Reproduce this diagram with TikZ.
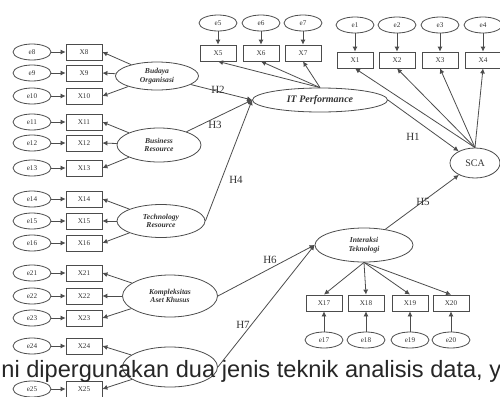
\documentclass[tikz,border=0pt]{standalone}
\usepackage{fontspec}
\setmainfont{Liberation Serif}
\newfontfamily\bodyfont{Liberation Sans}
\usepackage{tikz}
\usetikzlibrary{shapes.geometric,arrows.meta}

\begin{document}
\begin{tikzpicture}[x=0.5pt,y=0.5pt,yscale=-1,xscale=1,
    err/.style={draw=black!70, ellipse, minimum width=19pt, minimum height=8pt, inner sep=0pt, text=black!80, font=\fontsize{3.6}{4}\selectfont},
    ind/.style={draw=black!70, rectangle, minimum width=18pt, minimum height=8pt, inner sep=0pt, text=black!80, font=\fontsize{3.6}{4}\selectfont},
    lat/.style={draw=black!70, ellipse, inner sep=0pt, align=center, text=black!80, font=\bfseries\itshape\fontsize{3.8}{4.2}\selectfont},
    arr/.style={draw=black!70, line width=0.4pt, -{Latex[length=2.5pt,width=2.5pt]}},
    hyp/.style={inner sep=0pt, text=black!80, font=\fontsize{5.5}{6}\selectfont}]
    \useasboundingbox (0,0) rectangle (500,397);

    % left indicators
    \node[err] (e8) at (32,52) {e8}; \node[ind] (x8) at (84,52) {X8}; \draw[arr] (e8) -- (x8);
    \node[err] (e9) at (32,73) {e9}; \node[ind] (x9) at (84,73) {X9}; \draw[arr] (e9) -- (x9);
    \node[err] (e10) at (32,96) {e10}; \node[ind] (x10) at (84,96) {X10}; \draw[arr] (e10) -- (x10);
    \node[err] (e11) at (32,122) {e11}; \node[ind] (x11) at (84,122) {X11}; \draw[arr] (e11) -- (x11);
    \node[err] (e12) at (32,143) {e12}; \node[ind] (x12) at (84,143) {X12}; \draw[arr] (e12) -- (x12);
    \node[err] (e13) at (32,168) {e13}; \node[ind] (x13) at (84,168) {X13}; \draw[arr] (e13) -- (x13);
    \node[err] (e14) at (32,199) {e14}; \node[ind] (x14) at (84,199) {X14}; \draw[arr] (e14) -- (x14);
    \node[err] (e15) at (32,221) {e15}; \node[ind] (x15) at (84,221) {X15}; \draw[arr] (e15) -- (x15);
    \node[err] (e16) at (32,243) {e16}; \node[ind] (x16) at (84,243) {X16}; \draw[arr] (e16) -- (x16);
    \node[err] (e21) at (32,273) {e21}; \node[ind] (x21) at (84,273) {X21}; \draw[arr] (e21) -- (x21);
    \node[err] (e22) at (32,296) {e22}; \node[ind] (x22) at (84,296) {X22}; \draw[arr] (e22) -- (x22);
    \node[err] (e23) at (32,318) {e23}; \node[ind] (x23) at (84,318) {X23}; \draw[arr] (e23) -- (x23);
    \node[err] (e24) at (32,346) {e24}; \node[ind] (x24) at (84,346) {X24}; \draw[arr] (e24) -- (x24);
    \node[err] (e25) at (32,389) {e25}; \node[ind] (x25) at (84,389) {X25}; \draw[arr] (e25) -- (x25);

    % top indicators
    \node[err] (e5) at (218,23) {e5}; \node[ind] (x5) at (218,53) {X5}; \draw[arr] (e5) -- (x5);
    \node[err] (e6) at (261,23) {e6}; \node[ind] (x6) at (261,53) {X6}; \draw[arr] (e6) -- (x6);
    \node[err] (e7) at (303,23) {e7}; \node[ind] (x7) at (303,53) {X7}; \draw[arr] (e7) -- (x7);
    \node[err] (e1) at (355,25) {e1}; \node[ind] (x1) at (355,60) {X1}; \draw[arr] (e1) -- (x1);
    \node[err] (e2) at (397,25) {e2}; \node[ind] (x2) at (397,60) {X2}; \draw[arr] (e2) -- (x2);
    \node[err] (e3) at (440,25) {e3}; \node[ind] (x3) at (440,60) {X3}; \draw[arr] (e3) -- (x3);
    \node[err] (e4) at (483,25) {e4}; \node[ind] (x4) at (483,60) {X4}; \draw[arr] (e4) -- (x4);

    % bottom indicators
    \node[err] (e17) at (324,340) {e17}; \node[ind] (x17) at (324,303) {X17}; \draw[arr] (e17) -- (x17);
    \node[err] (e18) at (366,340) {e18}; \node[ind] (x18) at (366,303) {X18}; \draw[arr] (e18) -- (x18);
    \node[err] (e19) at (410,340) {e19}; \node[ind] (x19) at (410,303) {X19}; \draw[arr] (e19) -- (x19);
    \node[err] (e20) at (451,340) {e20}; \node[ind] (x20) at (451,303) {X20}; \draw[arr] (e20) -- (x20);

    % latent variables
    \node[lat, minimum width=41.5pt, minimum height=14pt] (bud) at (157,76) {Budaya\\Organisasi};
    \node[lat, minimum width=42pt, minimum height=17pt] (bus) at (159,145) {Business\\Resource};
    \node[lat, minimum width=44pt, minimum height=16.5pt] (tec) at (161,221) {Technology\\Resource};
    \node[lat, minimum width=47.5pt, minimum height=21pt] (kom) at (170,296) {Kompleksitas\\Aset Khusus};
    \node[lat, minimum width=47.5pt, minimum height=20pt] (bot) at (170,367) {};
    \node[lat, minimum width=67.5pt, minimum height=12pt, font=\bfseries\itshape\fontsize{5}{6}\selectfont] (itp) at (320,100) {IT Performance};
    \node[lat, minimum width=49pt, minimum height=17pt] (int) at (364,245) {Interaksi\\Teknologi};
    \node[lat, minimum width=25pt, minimum height=15pt, font=\fontsize{5}{6}\selectfont] (sca) at (475,163) {SCA};

    % loadings
    \draw[arr] (bud) -- (x8.east); \draw[arr] (bud) -- (x9.east); \draw[arr] (bud) -- (x10.east);
    \draw[arr] (bus) -- (x11.east); \draw[arr] (bus) -- (x12.east); \draw[arr] (bus) -- (x13.east);
    \draw[arr] (tec) -- (x14.east); \draw[arr] (tec) -- (x15.east); \draw[arr] (tec) -- (x16.east);
    \draw[arr] (kom) -- (x21.east); \draw[arr] (kom) -- (x22.east); \draw[arr] (kom) -- (x23.east);
    \draw[arr] (bot) -- (x24.east); \draw[arr] (bot) -- (x25.east);
    \draw[arr] (itp.north) -- (x5.south); \draw[arr] (itp.north) -- (x6.south); \draw[arr] (itp.north) -- (x7.south);
    \draw[arr] (sca.north) -- (x1.south); \draw[arr] (sca.north) -- (x2.south); \draw[arr] (sca.north) -- (x3.south); \draw[arr] (sca.north) -- (x4.south);
    \draw[arr] (int.south) -- (x17.north); \draw[arr] (int.south) -- (x18.north); \draw[arr] (int.south) -- (x19.north); \draw[arr] (int.south) -- (x20.north);

    % hypotheses
    \draw[arr] (itp.east) -- (sca);
    \draw[arr] (bud) -- (itp.west);
    \draw[arr] (bus) -- (itp.west);
    \draw[arr] (tec.east) -- (itp.west);
    \draw[arr] (int) -- (sca);
    \draw[arr] (kom.east) -- (int.west);
    \draw[arr] (bot.east) -- (int.west);

    \node[hyp] (h1) at (413,137) {H1};
    \node[hyp] (h2) at (218,90) {H2};
    \node[hyp] (h3) at (215,125) {H3};
    \node[hyp] (h4) at (236,180) {H4};
    \node[hyp] (h5) at (423,202) {H5};
    \node[hyp] (h6) at (270,260) {H6};
    \node[hyp] (h7) at (243,325) {H7};

    \node[anchor=base west, inner sep=0pt, text=black!85, font=\bodyfont\fontsize{11.8}{12}\selectfont] (cap) at (1,377) {ni dipergunakan dua jenis teknik analisis data, y};
\end{tikzpicture}
\end{document}
